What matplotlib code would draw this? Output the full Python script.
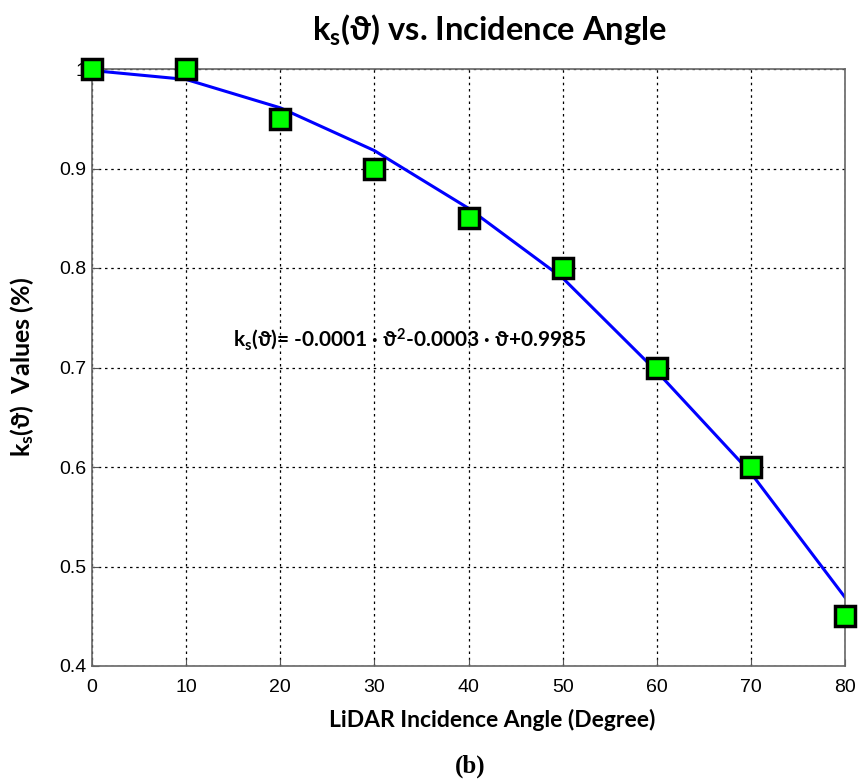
import matplotlib
matplotlib.use('Agg')
import matplotlib.pyplot as plt

# 字体设置：标题等用Lato粗体近似Calibri，刻度用Liberation Sans近似Arial
plt.rcParams['font.family'] = ['Liberation Sans', 'DejaVu Sans']
plt.rcParams['mathtext.fontset'] = 'custom'
plt.rcParams['mathtext.rm'] = 'Lato:bold'
plt.rcParams['mathtext.it'] = 'Lato:bold:italic'
plt.rcParams['mathtext.bf'] = 'Lato:bold'

# 数据
angles = [0, 10, 20, 30, 40, 50, 60, 70, 80]
ks_values = [1.0, 1.0, 0.95, 0.90, 0.85, 0.80, 0.70, 0.60, 0.45]
# 拟合曲线
fit_values = [0.9985, 0.9895, 0.961, 0.918, 0.860, 0.790, 0.696, 0.594, 0.469]

xticks = [0, 10, 20, 30, 40, 50, 60, 70, 80]
yticks = [0.4, 0.5, 0.6, 0.7, 0.8, 0.9, 1.0]
ytick_labels = ['0.4', '0.5', '0.6', '0.7', '0.8', '0.9', '1']

label_font = ['Lato', 'Liberation Sans', 'DejaVu Sans']

fig = plt.figure(figsize=(8.6, 7.81), dpi=100)
ax = fig.add_axes([92/860, 1-666/781, (845-92)/860, (666-69)/781])

ax.plot(angles, fit_values, color='#0000ff', linewidth=2.2, zorder=2)
ax.plot(angles, ks_values, linestyle='none', marker='s', markersize=15,
        markerfacecolor='#00ff00', markeredgecolor='black', markeredgewidth=2.5,
        zorder=3, clip_on=False)

ax.set_xlim(0, 80)
ax.set_ylim(0.4, 1.0)
ax.set_xticks(xticks)
ax.set_yticks(yticks)
ax.set_yticklabels(ytick_labels)
ax.tick_params(direction='in', length=5, labelsize=14, color='#555555')
ax.tick_params(axis='x', pad=9)
ax.tick_params(axis='y', pad=4)
ax.grid(True, color='black', linestyle=(0, (2, 3)), linewidth=0.9)
for sp in ax.spines.values():
    sp.set_color('#666666')
    sp.set_linewidth(1.2)

ax.text(15, 0.729, r'k$_\mathrm{s}$(ϑ)= -0.0001 · ϑ$^\mathrm{2}$-0.0003 · ϑ+0.9985',
        fontsize=15, fontweight='bold', family=label_font, va='center', ha='left')

fig.text(490/860, 1-30/781, r'k$_\mathrm{s}$(ϑ) vs. Incidence Angle', fontsize=23.5,
         fontweight='bold', family=label_font, ha='center', va='center')
fig.text(492/860, 1-720/781, r'LiDAR Incidence Angle (Degree)', fontsize=16.5,
         fontweight='bold', family=label_font, ha='center', va='center')
fig.text(22/860, 1-367/781, r'k$_\mathrm{s}$(ϑ)  Values (%)', fontsize=18,
         fontweight='bold', family=label_font, ha='center', va='center', rotation=90)
fig.text(470/860, 1-766/781, '(b)', fontsize=18, fontweight='bold',
         family='Liberation Serif', ha='center', va='center')

fig.savefig('out.png', dpi=100)
